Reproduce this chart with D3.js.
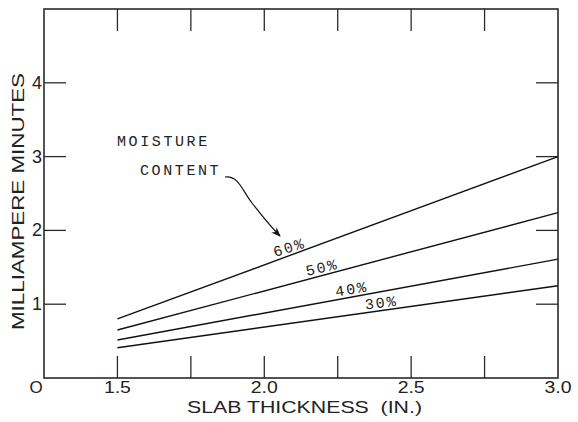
<!DOCTYPE html>
<html>
<head>
<meta charset="utf-8">
<script src="https://cdn.jsdelivr.net/npm/d3@7"></script>
<style>
  body { margin: 0; background: #fff; }
  text { fill: #222; }
</style>
</head>
<body>
<div class="canvas"></div>
<script>
// data
const moisture = ['60%', '50%', '40%', '30%'];
const thickness = [1.5, 3.0];
const mAsAt15 = [0.80, 0.65, 0.515, 0.41];
const mAsAt30 = [3.0, 2.24, 1.61, 1.25];
const xTicks = [1.5, 1.75, 2.0, 2.25, 2.5, 2.75, 3.0];
const xTickLabels = ['1.5', '', '2.0', '', '2.5', '', '3.0'];
const yTicks = [1, 2, 3, 4];
const yTickLabels = ['1', '2', '3', '4'];

const width = 578, height = 422;

const svg = d3.select('.canvas')
  .append('svg')
  .attr('width', width)
  .attr('height', height);

// the x axis is broken: left edge is "0", scale runs from 1.25
const x = d3.scaleLinear().domain([1.25, 3.0]).range([44, 558]);
const y = d3.scaleLinear().domain([0, 5]).range([378, 9]);

const ink = '#2a2a2a';

// frame
svg.append('rect')
  .attr('x', x(1.25)).attr('y', y(5))
  .attr('width', x(3.0) - x(1.25)).attr('height', y(0) - y(5))
  .attr('fill', 'none').attr('stroke', ink).attr('stroke-width', 1.6);

// inward ticks on all four sides
const tickLen = 22;
const frame = svg.append('g').attr('stroke', ink).attr('stroke-width', 1.3);
xTicks.filter(d => d < 3.0).forEach(d => {
  frame.append('line').attr('x1', x(d)).attr('x2', x(d)).attr('y1', y(0)).attr('y2', y(0) - tickLen);
  frame.append('line').attr('x1', x(d)).attr('x2', x(d)).attr('y1', y(5)).attr('y2', y(5) + tickLen);
});
yTicks.forEach(d => {
  frame.append('line').attr('x1', x(1.25)).attr('x2', x(1.25) + tickLen).attr('y1', y(d)).attr('y2', y(d));
  frame.append('line').attr('x1', x(3.0)).attr('x2', x(3.0) - tickLen).attr('y1', y(d)).attr('y2', y(d));
});

// tick labels
const labelFont = 'Liberation Sans, Arial, sans-serif';
svg.append('g').selectAll('text')
  .data(xTicks.map((d, i) => ({ v: d, t: xTickLabels[i] })).filter(d => d.t))
  .join('text')
  .attr('x', d => x(d.v))
  .attr('y', 393)
  .attr('text-anchor', 'middle')
  .attr('font-family', labelFont)
  .attr('font-size', 16)
  .attr('textLength', 27)
  .attr('lengthAdjust', 'spacingAndGlyphs')
  .text(d => d.t);

svg.append('text')
  .attr('x', 36).attr('y', 393)
  .attr('text-anchor', 'middle')
  .attr('font-family', labelFont)
  .attr('font-size', 17)
  .text('O');

svg.append('g').selectAll('text')
  .data(yTicks.map((d, i) => ({ v: d, t: yTickLabels[i] })))
  .join('text')
  .attr('x', 42)
  .attr('y', d => y(d.v) + 6)
  .attr('text-anchor', 'end')
  .attr('font-family', labelFont)
  .attr('font-size', 18)
  .text(d => d.t);

// axis titles
svg.append('text')
  .attr('x', 187).attr('y', 413)
  .attr('font-family', labelFont)
  .attr('font-size', 17)
  .attr('textLength', 235)
  .attr('lengthAdjust', 'spacingAndGlyphs')
  .style('white-space', 'pre')
  .text('SLAB THICKNESS  (IN.)');

svg.append('text')
  .attr('transform', 'translate(24, 330) rotate(-90)')
  .attr('font-family', labelFont)
  .attr('font-size', 17)
  .attr('textLength', 257)
  .attr('lengthAdjust', 'spacingAndGlyphs')
  .text('MILLIAMPERE MINUTES');

// the four lines
const series = moisture.map((m, i) => ({
  name: m,
  pts: [[thickness[0], mAsAt15[i]], [thickness[1], mAsAt30[i]]]
}));

const line = d3.line().x(d => x(d[0])).y(d => y(d[1]));

svg.append('g').selectAll('path')
  .data(series)
  .join('path')
  .attr('d', d => line(d.pts))
  .attr('fill', 'none')
  .attr('stroke', '#111')
  .attr('stroke-width', 1.4);

// line labels, set along each line
const labelAt = [2.09, 2.2, 2.3, 2.4];
const monoFont = 'Liberation Mono, DejaVu Sans Mono, monospace';
series.forEach((s, i) => {
  const [p0, p1] = s.pts;
  const t = labelAt[i];
  const v = p0[1] + (p1[1] - p0[1]) * (t - p0[0]) / (p1[0] - p0[0]);
  const ang = Math.atan2(y(p1[1]) - y(p0[1]), x(p1[0]) - x(p0[0])) * 180 / Math.PI * 0.85;
  svg.append('text')
    .attr('transform', `translate(${x(t)},${y(v) - 3}) rotate(${ang})`)
    .attr('text-anchor', 'middle')
    .attr('font-family', monoFont)
    .attr('font-size', 15)
    .attr('letter-spacing', 2)
    .attr('fill', '#333')
    .text(s.name);
});

// annotation
svg.append('text')
  .attr('x', 117).attr('y', 146)
  .attr('font-family', monoFont)
  .attr('font-size', 15)
  .attr('letter-spacing', 2.6)
  .attr('fill', '#333')
  .text('MOISTURE');

svg.append('text')
  .attr('x', 140).attr('y', 175)
  .attr('font-family', monoFont)
  .attr('font-size', 15)
  .attr('letter-spacing', 2.6)
  .attr('fill', '#333')
  .text('CONTENT');

svg.append('defs').append('marker')
  .attr('id', 'head')
  .attr('viewBox', '0 0 10 10')
  .attr('refX', 9).attr('refY', 5)
  .attr('markerWidth', 8).attr('markerHeight', 8)
  .attr('orient', 'auto')
  .append('path')
  .attr('d', 'M0,1 L10,5 L0,9 L3,5 Z')
  .attr('fill', '#111');

svg.append('path')
  .attr('d', 'M225,177 C238,175 242,190 252,203 S270,226 280,236')
  .attr('fill', 'none')
  .attr('stroke', '#111')
  .attr('stroke-width', 1.2)
  .attr('marker-end', 'url(#head)');
</script>
</body>
</html>
